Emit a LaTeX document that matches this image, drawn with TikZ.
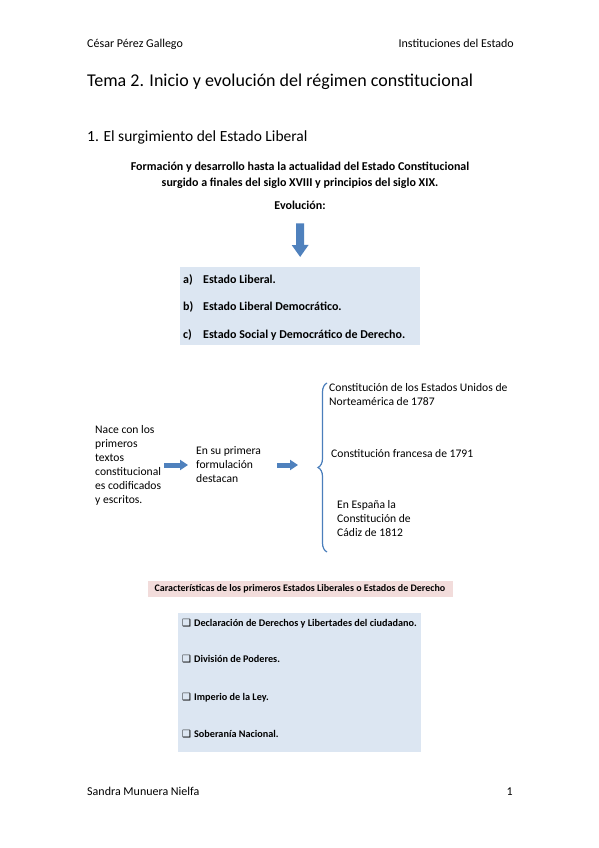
\documentclass[tikz,border=0pt]{standalone}
\usepackage{fontspec}
\setmainfont{Carlito}
\newfontfamily\symfont{DejaVu Sans}
\usepackage{tikz}
\usetikzlibrary{positioning, arrows.meta, calc, decorations.pathreplacing}

\definecolor{flechaazul}{HTML}{4F81BD}
\definecolor{fondoazul}{HTML}{DCE6F2}
\definecolor{fondorosa}{HTML}{F2DCDB}
\definecolor{llaveazul}{HTML}{4A7EBB}

\newcommand{\caja}{{\symfont\fontsize{10}{10}\selectfont ❑}\hspace{3pt}}

\tikzset{
  hdr/.style={inner sep=0pt, font=\fontsize{12}{14}\selectfont},
  titulo/.style={inner sep=0pt, font=\fontsize{18}{21}\selectfont},
  apartado/.style={inner sep=0pt, font=\fontsize{15.5}{19}\selectfont},
  texto/.style={inner sep=0pt, font=\fontsize{11.6}{14}\selectfont},
  negrita/.style={inner sep=0pt, font=\fontsize{12}{16}\selectfont\bfseries},
  negritapeq/.style={inner sep=0pt, font=\fontsize{10}{12}\selectfont\bfseries},
  rasgo/.style={inner sep=0pt, font=\fontsize{10.2}{12}\selectfont\bfseries},
  cajaazul/.style={fill=fondoazul, inner sep=0pt},
  cajarosa/.style={fill=fondorosa, inner sep=0pt},
  flechav/.style={flechaazul, line width=8pt, -{Triangle[width=16pt, length=12pt]}},
  flechah/.style={flechaazul, line width=5pt, -{Triangle[width=10pt, length=8pt]}},
  llave/.style={llaveazul, line width=1.2pt, decorate, decoration={brace, amplitude=9pt}}
}

\begin{document}
\begin{tikzpicture}[x=1pt, y=-1pt]

% Page
\fill[white] (0,0) rectangle (599,848);
\useasboundingbox (0,0) rectangle (599,848);

% Header and footer
\node[hdr, anchor=base west] (autor) at (87,48) {César Pérez Gallego};
\node[hdr, anchor=base east] (asignatura) at (514,48) {Instituciones del Estado};
\node[hdr, anchor=base west] (alumna) at (87,795) {Sandra Munuera Nielfa};
\node[hdr, anchor=base east] (pagina) at (513,795) {1};

% Titles
\node[titulo, anchor=base west] (tema) at (87,87) {Tema 2. Inicio y evolución del régimen constitucional};
\node[apartado, anchor=base west] (apartado) at (87,142) {1. El surgimiento del Estado Liberal};

% Evolution block
\node[negrita, anchor=base] (formacion) at (300,170) {Formación y desarrollo hasta la actualidad del Estado Constitucional};
\node[negrita, anchor=base] (surgido) at (300,186) {surgido a finales del siglo XVIII y principios del siglo XIX.};
\node[negrita, anchor=base] (evolucion) at (300,209) {Evolución:};

\node[cajaazul, minimum width=240, minimum height=78, anchor=north west] (etapas) at (180,267) {};
\node[negrita, anchor=base west] (etapaa) at (183,283) {a)};
\node[negrita, anchor=base west] (liberal) at (203,283) {Estado Liberal.};
\node[negrita, anchor=base west] (etapab) at (183,310) {b)};
\node[negrita, anchor=base west] (democratico) at (203,310) {Estado Liberal Democrático.};
\node[negrita, anchor=base west] (etapac) at (183,338) {c)};
\node[negrita, anchor=base west] (social) at (203,338) {Estado Social y Democrático de Derecho.};

\draw[flechav, shorten <=14pt, shorten >=10pt] (evolucion.south) -- (etapas.north);

% Origin row
\node[texto, align=left, anchor=north west] (nace) at (95,425) {Nace con los\\primeros\\textos\\constitucional\\es codificados\\y escritos.};
\node[texto, align=left, anchor=north west] (formulacion) at (196,446) {En su primera\\formulación\\destacan};

\coordinate (llavesup) at (327,383);
\coordinate (llaveinf) at (327,552);
\coordinate (punta) at (318,465);

\draw[flechah] ([xshift=3pt]nace.east |- punta) -- ([xshift=-8pt]formulacion.west |- punta);
\draw[flechah] ([xshift=16pt]formulacion.east |- punta) -- ([xshift=-20pt]punta);
\draw[llave] (llaveinf) -- (llavesup);

\node[texto, align=left, anchor=north west] (eeuu) at (329,383) {Constitución de los Estados Unidos de\\Norteamérica de 1787};
\node[texto, anchor=base west] (francia) at (331,457) {Constitución francesa de 1791};
\node[texto, align=left, anchor=north west] (espana) at (337,500) {En España la\\Constitución de\\Cádiz de 1812};

% Characteristics
\node[cajarosa, negritapeq, minimum width=305, minimum height=16] (caracteristicas) at (300,589) {Características de los primeros Estados Liberales o Estados de Derecho};

\node[cajaazul, minimum width=243, minimum height=139, anchor=north west] (rasgos) at (178,613) {};
\node[rasgo, anchor=base west] (derechos) at (182,626) {\caja Declaración de Derechos y Libertades del ciudadano.};
\node[rasgo, anchor=base west] (poderes) at (182,662) {\caja División de Poderes.};
\node[rasgo, anchor=base west] (ley) at (182,700) {\caja Imperio de la Ley.};
\node[rasgo, anchor=base west] (soberania) at (182,737) {\caja Soberanía Nacional.};

\end{tikzpicture}
\end{document}
